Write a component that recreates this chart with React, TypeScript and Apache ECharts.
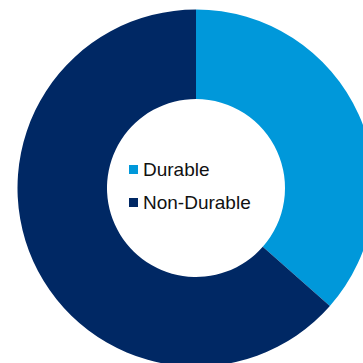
import React, { useEffect, useRef } from "react";
import * as echarts from "echarts";

const categories = ["Durable", "Non-Durable"];
const values = [36.5, 63.5];
const colors = ["#0098DA", "#002864"];

export default function App() {
  const ref = useRef<HTMLDivElement>(null);
  useEffect(() => {
    document.body.style.margin = "0";
    const chart = echarts.init(ref.current!, null, { renderer: "svg" });
    chart.setOption({
      animation: false,
      legend: {
        orient: "vertical",
        left: 129,
        top: 160,
        padding: 0,
        itemWidth: 9,
        itemHeight: 9,
        itemGap: 14,
        icon: "rect",
        data: categories,
        textStyle: {
          fontFamily: "Liberation Sans, Arial, sans-serif",
          fontSize: 19,
          lineHeight: 19,
          color: "#111111",
        },
      },
      series: [
        {
          type: "pie",
          center: [196, 188],
          radius: [89, 178.5],
          startAngle: 90,
          clockwise: true,
          label: { show: false },
          labelLine: { show: false },
          silent: true,
          itemStyle: { borderWidth: 0 },
          data: categories.map((c, i) => ({
            name: c,
            value: values[i],
            itemStyle: { color: colors[i] },
          })),
        },
      ],
    });
    return () => chart.dispose();
  }, []);
  return <div ref={ref} style={{ width: 363, height: 363 }} />;
}
